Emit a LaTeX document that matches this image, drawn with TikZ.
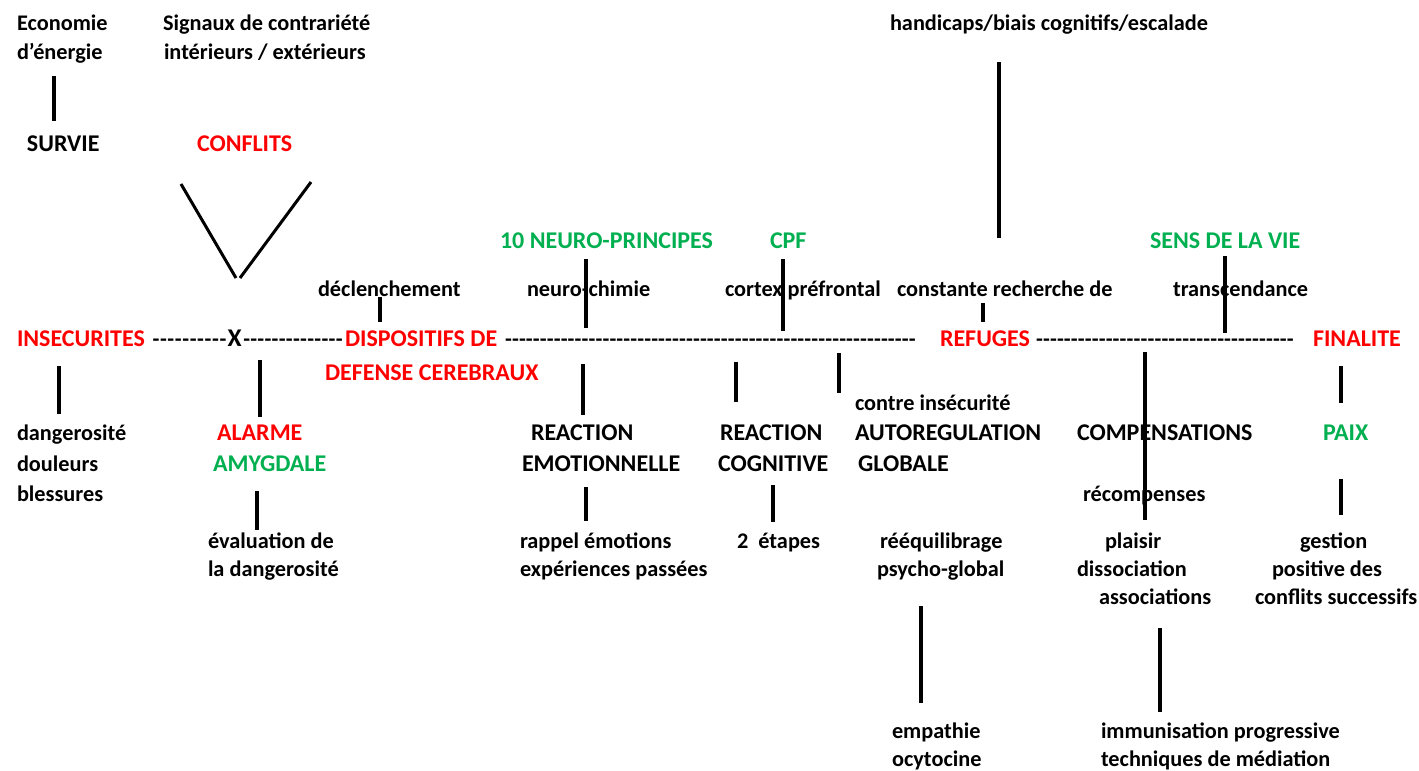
\documentclass[tikz,border=0pt]{standalone}
\usepackage{fontspec}
\setmainfont{Carlito}[Ligatures=TeXOff]
\definecolor{cred}{HTML}{FF0000}
\definecolor{cgreen}{HTML}{00B050}
\newcommand\dashfill[1]{\hbox to #1pt{\xleaders\hbox to 6.9pt{\hss-\hss}\hfill}}
\begin{document}
\begin{tikzpicture}[x=1pt,y=-1pt,
  captxt/.style={anchor=base west,inner sep=0pt,outer sep=0pt,font=\bfseries\fontsize{24}{29}\selectfont},
  txt/.style={anchor=base west,inner sep=0pt,outer sep=0pt,font=\bfseries\fontsize{22.3}{27}\selectfont},
  rd/.style={captxt,text=cred},
  gr/.style={captxt,text=cgreen},
  bar/.style={line width=4pt},
  vee/.style={line width=3pt}]
\useasboundingbox[fill=white] (0,0) rectangle (1419,771);
% top rows
\node[txt] (econ1) at (17,30) {Economie};
\node[txt] (econ2) at (17,59) {d’énergie};
\node[txt] (sig1) at (163,30) {Signaux de contrariété};
\node[txt] (sig2) at (164,59) {intérieurs / extérieurs};
\node[txt] (hand) at (890,30) {handicaps/biais cognitifs/escalade};
\node[captxt] (surv) at (27,151) {SURVIE};
\node[rd] (conf) at (197,151) {CONFLITS};
\node[gr] (neuro) at (500,248) {10 NEURO-PRINCIPES};
\node[gr] (cpf) at (770,248) {CPF};
\node[gr] (sens) at (1150,248) {SENS DE LA VIE};
\node[txt] (decl) at (318,296) {déclenchement};
\node[txt] (nchim) at (527,296) {neuro-chimie};
\node[txt] (cort) at (725,296) {cortex préfrontal};
\node[txt] (const) at (897,296) {constante recherche de};
\node[txt] (trans) at (1173,296) {transcendance};
% main line
\node[rd] (ins) at (17,346) {INSECURITES};
\node[txt] (dA) at (152,346) {\dashfill{75}};
\node[captxt,font=\bfseries\fontsize{25.5}{29}\selectfont] (xx) at (227.5,346) {X};
\node[txt] (dB) at (243,346) {\dashfill{100}};
\node[rd] (disp) at (345,346) {DISPOSITIFS DE};
\node[txt] (dC) at (505,346) {\dashfill{411}};
\node[rd] (ref) at (940,346) {REFUGES};
\node[txt] (dD) at (1036,346) {\dashfill{258}};
\node[rd] (fin) at (1313,346) {FINALITE};
\node[rd] (def) at (325,380) {DEFENSE CEREBRAUX};
\node[txt] (contre) at (855,410) {contre insécurité};
% row 440
\node[txt] (dang) at (17,440) {dangerosité};
\node[rd] (alar) at (217,440) {ALARME};
\node[captxt] (reac1) at (531,440) {REACTION};
\node[captxt] (reac2) at (720,440) {REACTION};
\node[captxt] (auto) at (855,440) {AUTOREGULATION};
\node[captxt] (comp) at (1077,440) {COMPENSATIONS};
\node[gr] (paix) at (1323,440) {PAIX};
% row 471
\node[txt] (doul) at (17,471) {douleurs};
\node[gr] (amyg) at (213,471) {AMYGDALE};
\node[captxt] (emot) at (522,471) {EMOTIONNELLE};
\node[captxt] (cogn) at (718,471) {COGNITIVE};
\node[captxt] (glob) at (858,471) {GLOBALE};
% row 501
\node[txt] (bles) at (17,501) {blessures};
\node[txt] (recomp) at (1083,501) {récompenses};
% row 548
\node[txt] (eval1) at (208,548) {évaluation de};
\node[txt] (rapp) at (520,548) {rappel émotions};
\node[txt] (etap) at (737,548) {2~~étapes};
\node[txt] (reeq) at (880,548) {rééquilibrage};
\node[txt] (plai) at (1105,548) {plaisir};
\node[txt] (gest) at (1300,548) {gestion};
% row 576
\node[txt] (eval2) at (208,576) {la dangerosité};
\node[txt] (expe) at (520,576) {expériences passées};
\node[txt] (psy) at (877,576) {psycho-global};
\node[txt] (diss) at (1077,576) {dissociation};
\node[txt] (posi) at (1272,576) {positive des};
% row 604
\node[txt] (asso) at (1099,604) {associations};
\node[txt] (cfl) at (1255,604) {conflits successifs};
% bottom
\node[txt] (emp) at (892,738) {empathie};
\node[txt] (ocy) at (892,766) {ocytocine};
\node[txt] (immu) at (1101,738) {immunisation progressive};
\node[txt] (tech) at (1101,766) {techniques de médiation};
% connector end points
\coordinate (a1) at (54,76);   \coordinate (a2) at (54,121);
\coordinate (v1) at (181,184); \coordinate (v2) at (236,278);
\coordinate (v3) at (240,278); \coordinate (v4) at (311,182);
\coordinate (h1) at (999,62);  \coordinate (h2) at (999,238);
\coordinate (d1) at (380,297); \coordinate (d2) at (380,322);
\coordinate (n1) at (586,259); \coordinate (n2) at (586,328);
\coordinate (c1) at (783,259); \coordinate (c2) at (783,331);
\coordinate (r1) at (983,303); \coordinate (r2) at (983,322);
\coordinate (s1) at (1225,256); \coordinate (s2) at (1225,333);
\coordinate (i1) at (59,366);  \coordinate (i2) at (59,414);
\coordinate (x1) at (260,360); \coordinate (x2) at (260,417);
\coordinate (m1) at (257,491); \coordinate (m2) at (257,530);
\coordinate (e1) at (583,364); \coordinate (e2) at (583,415);
\coordinate (e3) at (586,487); \coordinate (e4) at (586,521);
\coordinate (g1) at (736,362); \coordinate (g2) at (736,402);
\coordinate (g3) at (773,485); \coordinate (g4) at (773,522);
\coordinate (u1) at (839,353); \coordinate (u2) at (839,393);
\coordinate (u3) at (921,606); \coordinate (u4) at (921,703);
\coordinate (k1) at (1145,352); \coordinate (k2) at (1145,520);
\coordinate (k3) at (1160,628); \coordinate (k4) at (1160,712);
\coordinate (p1) at (1341,366); \coordinate (p2) at (1341,403);
\coordinate (p3) at (1341,479); \coordinate (p4) at (1341,515);
% connectors
\draw[bar] (a1) -- (a2);
\draw[vee] (v1) -- (v2);
\draw[vee] (v3) -- (v4);
\draw[bar] (h1) -- (h2);
\draw[bar] (d1) -- (d2);
\draw[bar] (n1) -- (n2);
\draw[bar] (c1) -- (c2);
\draw[bar] (r1) -- (r2);
\draw[bar] (s1) -- (s2);
\draw[bar] (i1) -- (i2);
\draw[bar] (x1) -- (x2);
\draw[bar] (m1) -- (m2);
\draw[bar] (e1) -- (e2);
\draw[bar] (e3) -- (e4);
\draw[bar] (g1) -- (g2);
\draw[bar] (g3) -- (g4);
\draw[bar] (u1) -- (u2);
\draw[bar] (u3) -- (u4);
\draw[bar] (k1) -- (k2);
\draw[bar] (k3) -- (k4);
\draw[bar] (p1) -- (p2);
\draw[bar] (p3) -- (p4);
\end{tikzpicture}
\end{document}
